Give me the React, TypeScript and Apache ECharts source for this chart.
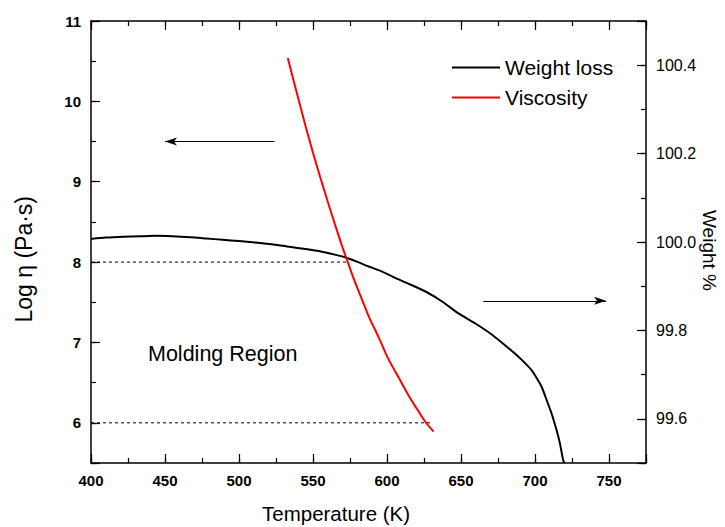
import React, { useEffect, useRef } from "react";
import * as echarts from "echarts";

// Weight loss (right axis, Weight %)
const weightTemp = [400, 410, 422, 433, 444, 455, 467, 478, 489, 500, 511, 522, 534, 545, 556, 564, 572, 580, 588, 596, 604, 615, 626, 637, 648, 660, 671, 682, 689, 693.3, 697.7, 701, 704.4, 707.8, 711.2, 714.5, 716.8, 719, 720];
const weightPct = [100.007, 100.01, 100.012, 100.013, 100.014, 100.013, 100.011, 100.008, 100.005, 100.002, 99.999, 99.995, 99.989, 99.984, 99.978, 99.972, 99.965, 99.955, 99.944, 99.934, 99.921, 99.905, 99.888, 99.866, 99.839, 99.815, 99.79, 99.76, 99.74, 99.726, 99.71, 99.693, 99.673, 99.643, 99.612, 99.575, 99.545, 99.507, 99.5];

// Viscosity (left axis, log eta)
const viscTemp = [533, 537, 541, 545, 550, 555, 560, 565, 570, 573.5, 578, 583, 588, 594.5, 600, 604, 608, 614, 620, 626, 631.5];
const viscLog = [10.54, 10.25, 9.97, 9.69, 9.36, 9.05, 8.75, 8.46, 8.18, 8.0, 7.77, 7.54, 7.31, 7.06, 6.83, 6.69, 6.56, 6.36, 6.18, 6.01, 5.89];

// Dashed guide lines
const guide8Temp = [400, 574];
const guide8Level = 8;
const guide6Temp = [400, 630];
const guide6Level = 6;

// Arrows
const arrowLeftTemp = [524, 450];
const arrowLeftLevel = 9.5;
const arrowRightTemp = [665, 748];
const arrowRightLevel = 99.867;

const FONT = "Liberation Sans, Arial, sans-serif";

export default function App() {
  const ref = useRef<HTMLDivElement>(null);
  useEffect(() => {
    if (!ref.current) return;
    const chart = echarts.init(ref.current, null, { renderer: "svg" });
    const axisLine = { show: true, onZero: false, lineStyle: { color: "#000", width: 1.5 } };
    const noLine = { show: false, onZero: false };
    const tickStyle = { color: "#000", width: 1.2 };
    const blankLabel = { show: true, formatter: () => "" };
    const option: any = {
      animation: false,
      backgroundColor: "#fff",
      textStyle: { fontFamily: FONT },
      grid: { left: 91, right: 79, top: 21, bottom: 64, containLabel: false },
      legend: {
        orient: "vertical", left: 447, top: 52, itemWidth: 48, itemHeight: 2, itemGap: 9, icon: "rect",
        data: ["Weight loss", "Viscosity"],
        textStyle: { fontSize: 21, color: "#000", fontFamily: FONT },
      },
      xAxis: [
        {
          type: "value", min: 400, max: 775, interval: 25, position: "bottom",
          axisLine, axisTick: { show: true, inside: true, length: 5, lineStyle: tickStyle },
          axisLabel: {
            show: true, fontSize: 15, fontWeight: "bold", color: "#000", margin: 10, fontFamily: FONT,
            formatter: (v: number) => (v % 50 === 0 && v <= 750 ? String(v) : ""),
          },
          splitLine: { show: false },
        },
        {
          type: "value", min: 400, max: 775, interval: 50, position: "bottom",
          axisLine: noLine, axisTick: { show: true, inside: true, length: 9, lineStyle: tickStyle },
          axisLabel: blankLabel, splitLine: { show: false },
        },
        {
          type: "value", min: 400, max: 775, interval: 25, position: "top",
          axisLine, axisTick: { show: true, inside: true, length: 5, lineStyle: tickStyle },
          axisLabel: blankLabel, splitLine: { show: false },
        },
        {
          type: "value", min: 400, max: 775, interval: 50, position: "top",
          axisLine: noLine, axisTick: { show: true, inside: true, length: 9, lineStyle: tickStyle },
          axisLabel: blankLabel, splitLine: { show: false },
        },
      ],
      yAxis: [
        {
          type: "value", min: 5.5, max: 11, interval: 0.5, position: "left",
          axisLine, axisTick: { show: true, inside: true, length: 5, lineStyle: tickStyle },
          axisLabel: {
            show: true, fontSize: 15, fontWeight: "bold", color: "#000", margin: 10, fontFamily: FONT,
            formatter: (v: number) => (Number.isInteger(v) ? String(v) : ""),
          },
          splitLine: { show: false },
        },
        {
          type: "value", min: 5.5, max: 11, splitNumber: 5, position: "left",
          axisLine: noLine, axisTick: { show: true, inside: true, length: 9, lineStyle: tickStyle },
          axisLabel: blankLabel, splitLine: { show: false },
        },
        {
          type: "value", min: 99.5, max: 100.5, interval: 0.1, position: "right",
          axisLine, axisTick: { show: true, inside: true, length: 5, lineStyle: tickStyle },
          axisLabel: {
            show: true, fontSize: 16, color: "#000", margin: 10, fontFamily: FONT,
            formatter: (v: number) => (Math.round(v * 10) % 2 === 0 && v > 99.55 && v < 100.45 ? v.toFixed(1) : ""),
          },
          splitLine: { show: false },
        },
        {
          type: "value", min: 99.5, max: 100.5, splitNumber: 5, position: "right",
          axisLine: noLine, axisTick: { show: true, inside: true, length: 9, lineStyle: tickStyle },
          axisLabel: blankLabel, splitLine: { show: false },
        },
      ],
      graphic: [
        { type: "text", left: 148, top: 343, silent: true,
          style: { text: "Molding Region", fontSize: 21.5, fill: "#000", fontFamily: FONT } },
        { type: "text", left: 262, top: 503, silent: true,
          style: { text: "Temperature (K)", fontSize: 20.5, fill: "#000", fontFamily: FONT } },
        { type: "text", left: 12, top: 196, rotation: Math.PI / 2, silent: true,
          style: { text: "Log \u03b7 (Pa\u00b7s)", fontSize: 23, fill: "#000", fontFamily: FONT } },
        { type: "text", left: 700, top: 210, rotation: -Math.PI / 2, silent: true,
          style: { text: "Weight %", fontSize: 19, fill: "#000", fontFamily: FONT } },
      ],
      series: [
        {
          name: "guide8", type: "line", xAxisIndex: 0, yAxisIndex: 0, showSymbol: false, silent: true,
          data: guide8Temp.map((t) => [t, guide8Level]),
          lineStyle: { color: "#000", width: 1, type: [3, 3] },
        },
        {
          name: "guide6", type: "line", xAxisIndex: 0, yAxisIndex: 0, showSymbol: false, silent: true,
          data: guide6Temp.map((t) => [t, guide6Level]),
          lineStyle: { color: "#000", width: 1, type: [3, 3] },
        },
        {
          name: "Weight loss", type: "line", xAxisIndex: 0, yAxisIndex: 2, showSymbol: false, symbol: "none",
          smooth: 0.2,
          data: weightTemp.map((t, i) => [t, weightPct[i]]),
          lineStyle: { color: "#000", width: 2 }, itemStyle: { color: "#000" },
          markLine: {
            silent: true, symbol: ["none", "arrow"], animation: false, label: { show: false },
            lineStyle: { color: "#000", width: 1.2, type: "solid" },
            data: [[
              { coord: [arrowRightTemp[0], arrowRightLevel], symbolSize: 1 },
              { coord: [arrowRightTemp[1], arrowRightLevel], symbolSize: [6, 12] },
            ]],
          },
        },
        {
          name: "Viscosity", type: "line", xAxisIndex: 0, yAxisIndex: 0, showSymbol: false, symbol: "none",
          smooth: 0.2,
          data: viscTemp.map((t, i) => [t, viscLog[i]]),
          lineStyle: { color: "#ff0000", width: 2 }, itemStyle: { color: "#ff0000" },
          markLine: {
            silent: true, symbol: ["none", "arrow"], animation: false, label: { show: false },
            lineStyle: { color: "#000", width: 1.2, type: "solid" },
            data: [[
              { coord: [arrowLeftTemp[0], arrowLeftLevel], symbolSize: 1 },
              { coord: [arrowLeftTemp[1], arrowLeftLevel], symbolSize: [6, 12] },
            ]],
          },
        },
      ],
    };
    chart.setOption(option);
    return () => chart.dispose();
  }, []);
  return (
    <div ref={ref} style={{ position: "fixed", left: 0, top: 0, width: 725, height: 527, background: "#fff" }} />
  );
}
